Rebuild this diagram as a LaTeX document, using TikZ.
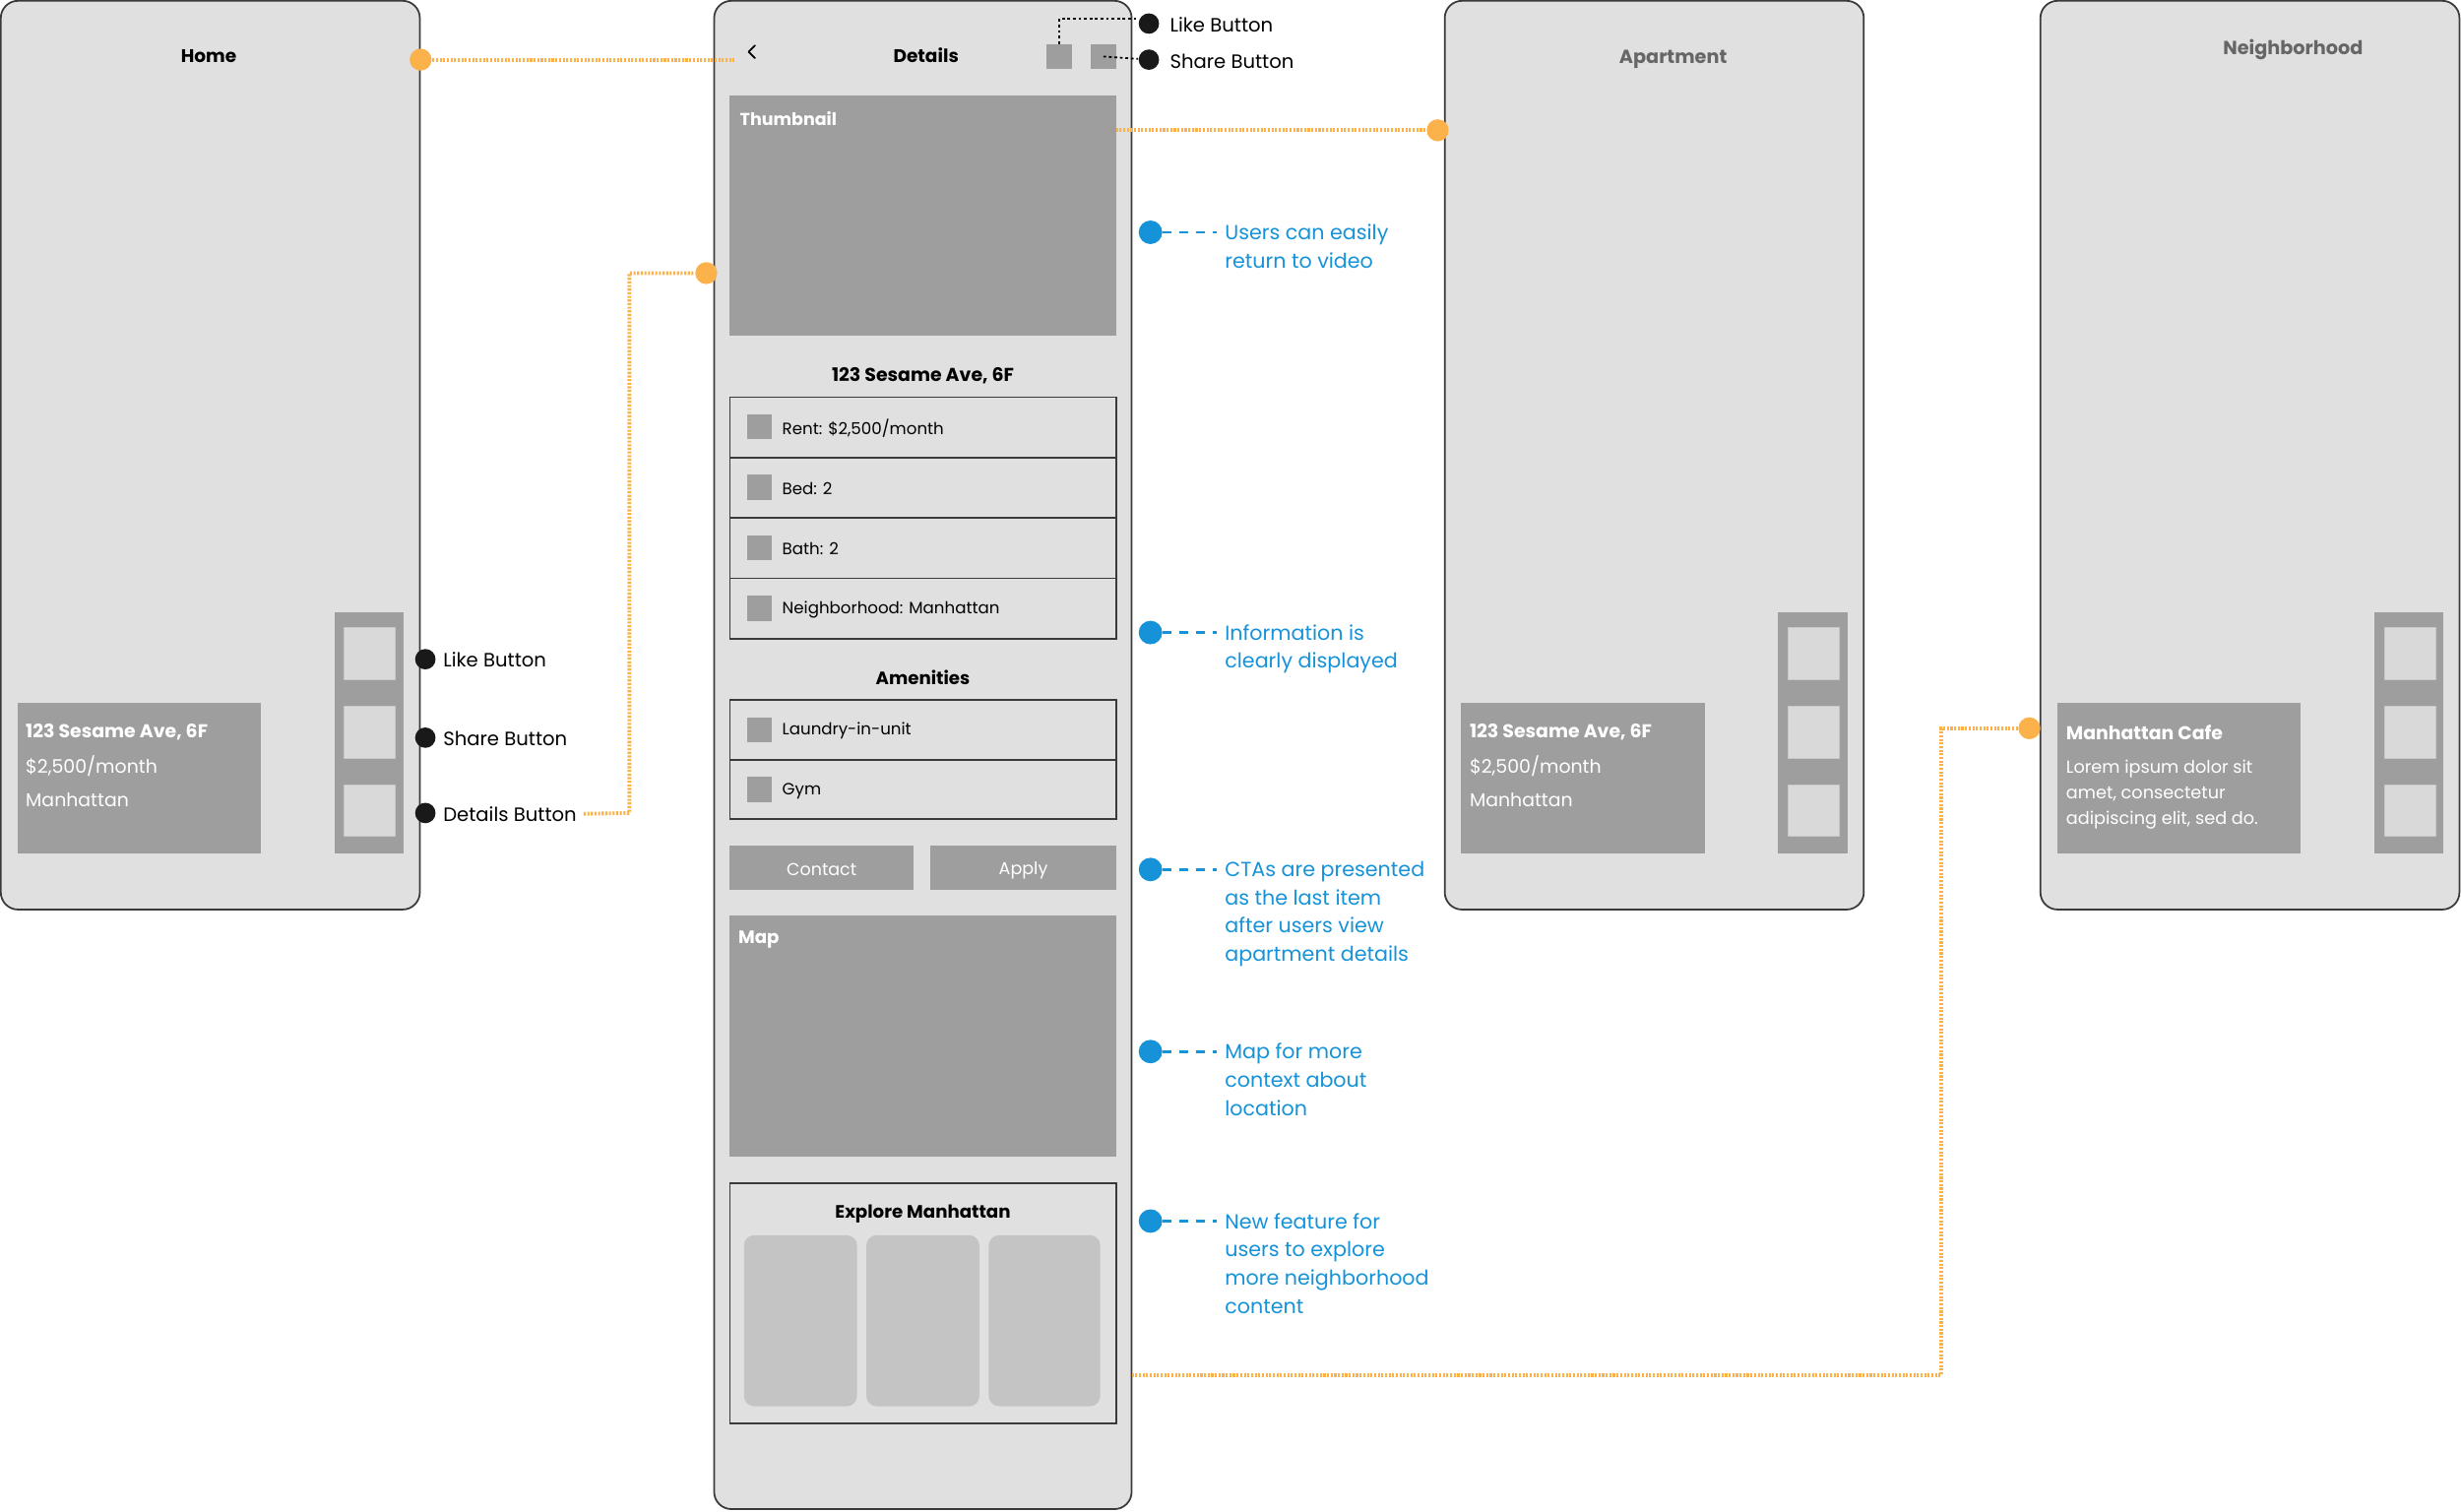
\documentclass[tikz,border=0pt]{standalone}
\usepackage{fontspec}
\setmainfont{Poppins}
\newdimen\pxu \pxu=0.016cm
\definecolor{phonefill}{HTML}{E0E0E0}
\definecolor{edge}{HTML}{3A3A3A}
\definecolor{midgray}{HTML}{9E9E9E}
\definecolor{lightsq}{HTML}{D9D9D9}
\definecolor{cardgray}{HTML}{C4C4C4}
\definecolor{orng}{HTML}{FBB24A}
\definecolor{bluen}{HTML}{1592D8}
\definecolor{titlegray}{HTML}{666666}
\begin{document}
\begin{tikzpicture}[x=0.016cm,y=-0.016cm,
  sz/.style 2 args={minimum width=#1*\pxu,minimum height=#2*\pxu},
  phone/.style={draw=edge,fill=phonefill,line width=0.5pt,rounded corners=5pt,inner sep=0pt,outer sep=0pt,anchor=north west},
  blockg/.style={fill=midgray,inner sep=0pt,outer sep=0pt,anchor=north west},
  lsq/.style={fill=lightsq,draw=lightsq!80!gray,line width=0.2pt,inner sep=0pt,outer sep=0pt,anchor=north west},
  rowbox/.style={draw=edge,fill=phonefill,line width=0.5pt,inner sep=0pt,outer sep=0pt,anchor=north west},
  gsq/.style={fill=midgray,inner sep=0pt,outer sep=0pt,anchor=north west},
  ecard/.style={fill=cardgray,rounded corners=3pt,inner sep=0pt,outer sep=0pt,anchor=north west},
  ttl/.style={font=\fontsize{5.3}{7}\selectfont\bfseries,text=black,inner sep=0pt},
  gttl/.style={font=\fontsize{5.5}{7}\selectfont\bfseries,text=titlegray,inner sep=0pt},
  lbl/.style={font=\fontsize{5.6}{7}\selectfont,text=black,inner sep=0pt,anchor=west},
  cardb/.style={font=\fontsize{5.4}{6}\selectfont\bfseries,text=white,inner sep=0pt,anchor=west},
  cardt/.style={font=\fontsize{5.4}{6}\selectfont,text=white,inner sep=0pt,anchor=west},
  listt/.style={font=\fontsize{4.75}{6}\selectfont,text=black,inner sep=0pt,anchor=west},
  btnt/.style={font=\fontsize{5}{6}\selectfont,text=white},
  note/.style={font=\fontsize{5.9}{8.2}\selectfont,text=bluen,inner sep=0pt,anchor=north west,align=left},
  kdotn/.style={circle,fill=black!90,inner sep=0pt,minimum size=13*\pxu},
  odotn/.style={circle,fill=orng,inner sep=0pt,minimum size=14*\pxu},
  bdotn/.style={circle,fill=bluen,inner sep=0pt,minimum size=15*\pxu},
  oline/.style={orng,line width=1.1pt,dash pattern=on 0.6pt off 0.45pt},
  kline/.style={black,line width=0.5pt,dash pattern=on 0.8pt off 0.8pt},
  bline/.style={bluen,line width=0.85pt,dash pattern=on 2.6pt off 2.2pt},
]
\useasboundingbox (0,0) rectangle (1568,963);

% ---------------- Home ----------------
\node[phone,sz={267}{579}] (home) at (0.5,0.5) {};
\node[ttl] (homet) at (133,35.5) {Home};
\node[blockg,sz={44}{154}] (hcol) at (213,390) {};
\node[lsq,sz={33}{33}] (hs1) at (219,400) {};
\node[lsq,sz={33}{33}] (hs2) at (219,450) {};
\node[lsq,sz={33}{33}] (hs3) at (219,500) {};
\node[blockg,sz={155}{96}] (hcard) at (11,448) {};
\node[cardb] (hc1) at (16,466.5) {123 Sesame Ave, 6F};
\node[cardt] (hc2) at (16,488) {\$2,500/month};
\node[cardt] (hc3) at (16,509.5) {Manhattan};

% ---------------- Details ----------------
\node[phone,sz={266}{961}] (det) at (455,0.5) {};
\draw[line width=0.5pt,line cap=round,line join=round] (481,29) -- (477,33) -- (481,37);
\node[ttl] (dett) at (590,35.5) {Details};
\node[gsq,sz={16}{16}] (dsq1) at (667,28) {};
\node[gsq,sz={16}{16}] (dsq2) at (695,28) {};
\node[blockg,sz={246}{153}] (thumb) at (465,61) {};
\node[cardb,font=\fontsize{5}{6}\selectfont\bfseries] (thumbt) at (471,75.5) {Thumbnail};
\node[ttl,font=\fontsize{5.4}{7}\selectfont\bfseries] (addr) at (588,239.5) {123 Sesame Ave, 6F};
\node[rowbox,sz={246}{38.5}] (r1) at (465,253) {};
\node[rowbox,sz={246}{38.5}] (r2) at (465,291.5) {};
\node[rowbox,sz={246}{38.5}] (r3) at (465,330) {};
\node[rowbox,sz={246}{38.5}] (r4) at (465,368.5) {};
\node[gsq,sz={16}{16}] (r1s) at (476,264) {};
\node[gsq,sz={16}{16}] (r2s) at (476,302.5) {};
\node[gsq,sz={16}{16}] (r3s) at (476,341) {};
\node[gsq,sz={16}{16}] (r4s) at (476,379.5) {};
\node[listt] (r1t) at (498,272.75) {Rent: \$2,500/month};
\node[listt] (r2t) at (498,311.25) {Bed: 2};
\node[listt] (r3t) at (498,349.75) {Bath: 2};
\node[listt] (r4t) at (498,388.25) {Neighborhood: Manhattan};
\node[ttl,font=\fontsize{5.2}{7}\selectfont\bfseries] (amen) at (588,431.5) {Amenities};
\node[rowbox,sz={246}{38}] (a1) at (465,446) {};
\node[rowbox,sz={246}{38}] (a2) at (465,484) {};
\node[gsq,sz={16}{16}] (a1s) at (476,457) {};
\node[gsq,sz={16}{16}] (a2s) at (476,495) {};
\node[listt] (a1t) at (498,465.5) {Laundry-in-unit};
\node[listt] (a2t) at (498,504) {Gym};
\node[blockg,sz={117}{28}] (contact) at (465,539) {};
\node[blockg,sz={118}{28}] (apply) at (593,539) {};
\node[btnt] (contactt) at ([yshift=-0.6pt]contact.center) {Contact};
\node[btnt] (applyt) at ([yshift=-0.6pt]apply.center) {Apply};
\node[blockg,sz={246}{154}] (map) at (465,583) {};
\node[cardb,font=\fontsize{5.2}{6}\selectfont\bfseries] (mapt) at (470,598.5) {Map};
\node[rowbox,sz={246}{153}] (explore) at (465,754) {};
\node[ttl,font=\fontsize{5.2}{7}\selectfont\bfseries] (exploret) at (588,773.5) {Explore Manhattan};
\node[ecard,sz={72}{109}] (ec1) at (474,787) {};
\node[ecard,sz={72}{109}] (ec2) at (552,787) {};
\node[ecard,sz={71}{109}] (ec3) at (630,787) {};

% ---------------- Apartment ----------------
\node[phone,sz={267}{579}] (apt) at (920.5,0.5) {};
\node[gttl] (aptt) at (1066,37.5) {Apartment};
\node[blockg,sz={44}{154}] (acol) at (1133,390) {};
\node[lsq,sz={33}{33}] (as1) at (1139,400) {};
\node[lsq,sz={33}{33}] (as2) at (1139,450) {};
\node[lsq,sz={33}{33}] (as3) at (1139,500) {};
\node[blockg,sz={155}{96}] (acard) at (931,448) {};
\node[cardb] (ac1) at (936,466.5) {123 Sesame Ave, 6F};
\node[cardt] (ac2) at (936,488) {\$2,500/month};
\node[cardt] (ac3) at (936,509.5) {Manhattan};

% ---------------- Neighborhood ----------------
\node[phone,sz={267}{579}] (nbh) at (1300,0.5) {};
\node[gttl] (nbht) at (1461,31.5) {Neighborhood};
\node[blockg,sz={44}{154}] (ncol) at (1513,390) {};
\node[lsq,sz={33}{33}] (ns1) at (1519,400) {};
\node[lsq,sz={33}{33}] (ns2) at (1519,450) {};
\node[lsq,sz={33}{33}] (ns3) at (1519,500) {};
\node[blockg,sz={155}{96}] (ncard) at (1311,448) {};
\node[cardb] (nc1) at (1316,466.5) {Manhattan Cafe};
\node[cardt,anchor=north west,align=left,font=\fontsize{5.05}{7.5}\selectfont] (nc2) at (1316,483.5) {Lorem ipsum dolor sit\\amet, consectetur\\adipiscing elit, sed do.};

% ---------------- Dots ----------------
\node[odotn] (oh) at (268,38) {};
\node[odotn] (od) at (450,174) {};
\node[odotn] (oa) at (916,83) {};
\node[odotn] (on) at (1293,464) {};
\node[kdotn] (hk1) at (271,420) {};
\node[kdotn] (hk2) at (271,470) {};
\node[kdotn] (hk3) at (271,518) {};
\node[lbl] (hl1) at (282,420.5) {Like Button};
\node[lbl] (hl2) at (282,470.5) {Share Button};
\node[lbl] (hl3) at (282,518.5) {Details Button};
\node[kdotn] (dk1) at (732,15) {};
\node[kdotn] (dk2) at (732,38) {};
\node[lbl] (dl1) at (745,16) {Like Button};
\node[lbl] (dl2) at (745,39) {Share Button};

% ---------------- Blue notes ----------------
\node[bdotn] (b1) at (733,148) {};
\node[bdotn] (b2) at (733,403) {};
\node[bdotn] (b3) at (733,554) {};
\node[bdotn] (b4) at (733,670) {};
\node[bdotn] (b5) at (733,778) {};
\coordinate (be1) at (775,148);
\coordinate (be2) at (775,403);
\coordinate (be3) at (775,554);
\coordinate (be4) at (775,670);
\coordinate (be5) at (775,778);
\node[note] (n1) at (780,142.5) {Users can easily\\return to video};
\node[note] (n2) at (780,397.5) {Information is\\clearly displayed};
\node[note] (n3) at (780,548.5) {CTAs are presented\\as the last item\\after users view\\apartment details};
\node[note] (n4) at (780,664.5) {Map for more\\context about\\location};
\node[note] (n5) at (780,772.5) {New feature for\\users to explore\\more neighborhood\\content};
\draw[bline] (b1.east) -- (be1);
\draw[bline] (b2.east) -- (be2);
\draw[bline] (b3.east) -- (be3);
\draw[bline] (b4.east) -- (be4);
\draw[bline] (b5.east) -- (be5);

% ---------------- Connectors ----------------
\coordinate (backend) at (468,38);
\draw[oline] (oh) -- (backend);
\coordinate (k1) at (401,518);
\draw[oline] (hl3.east) ++(4,0) -- (k1) |- (od);
\draw[oline] (thumb.east |- oa) -- (oa);
\coordinate (k2) at (1237,876);
\draw[oline] (det.east |- k2) -- (k2) |- (on);
\draw[kline] (dsq1.north) |- (dk1.155);
\draw[kline] (dsq2.center) -- (dk2);
\end{tikzpicture}
\end{document}
